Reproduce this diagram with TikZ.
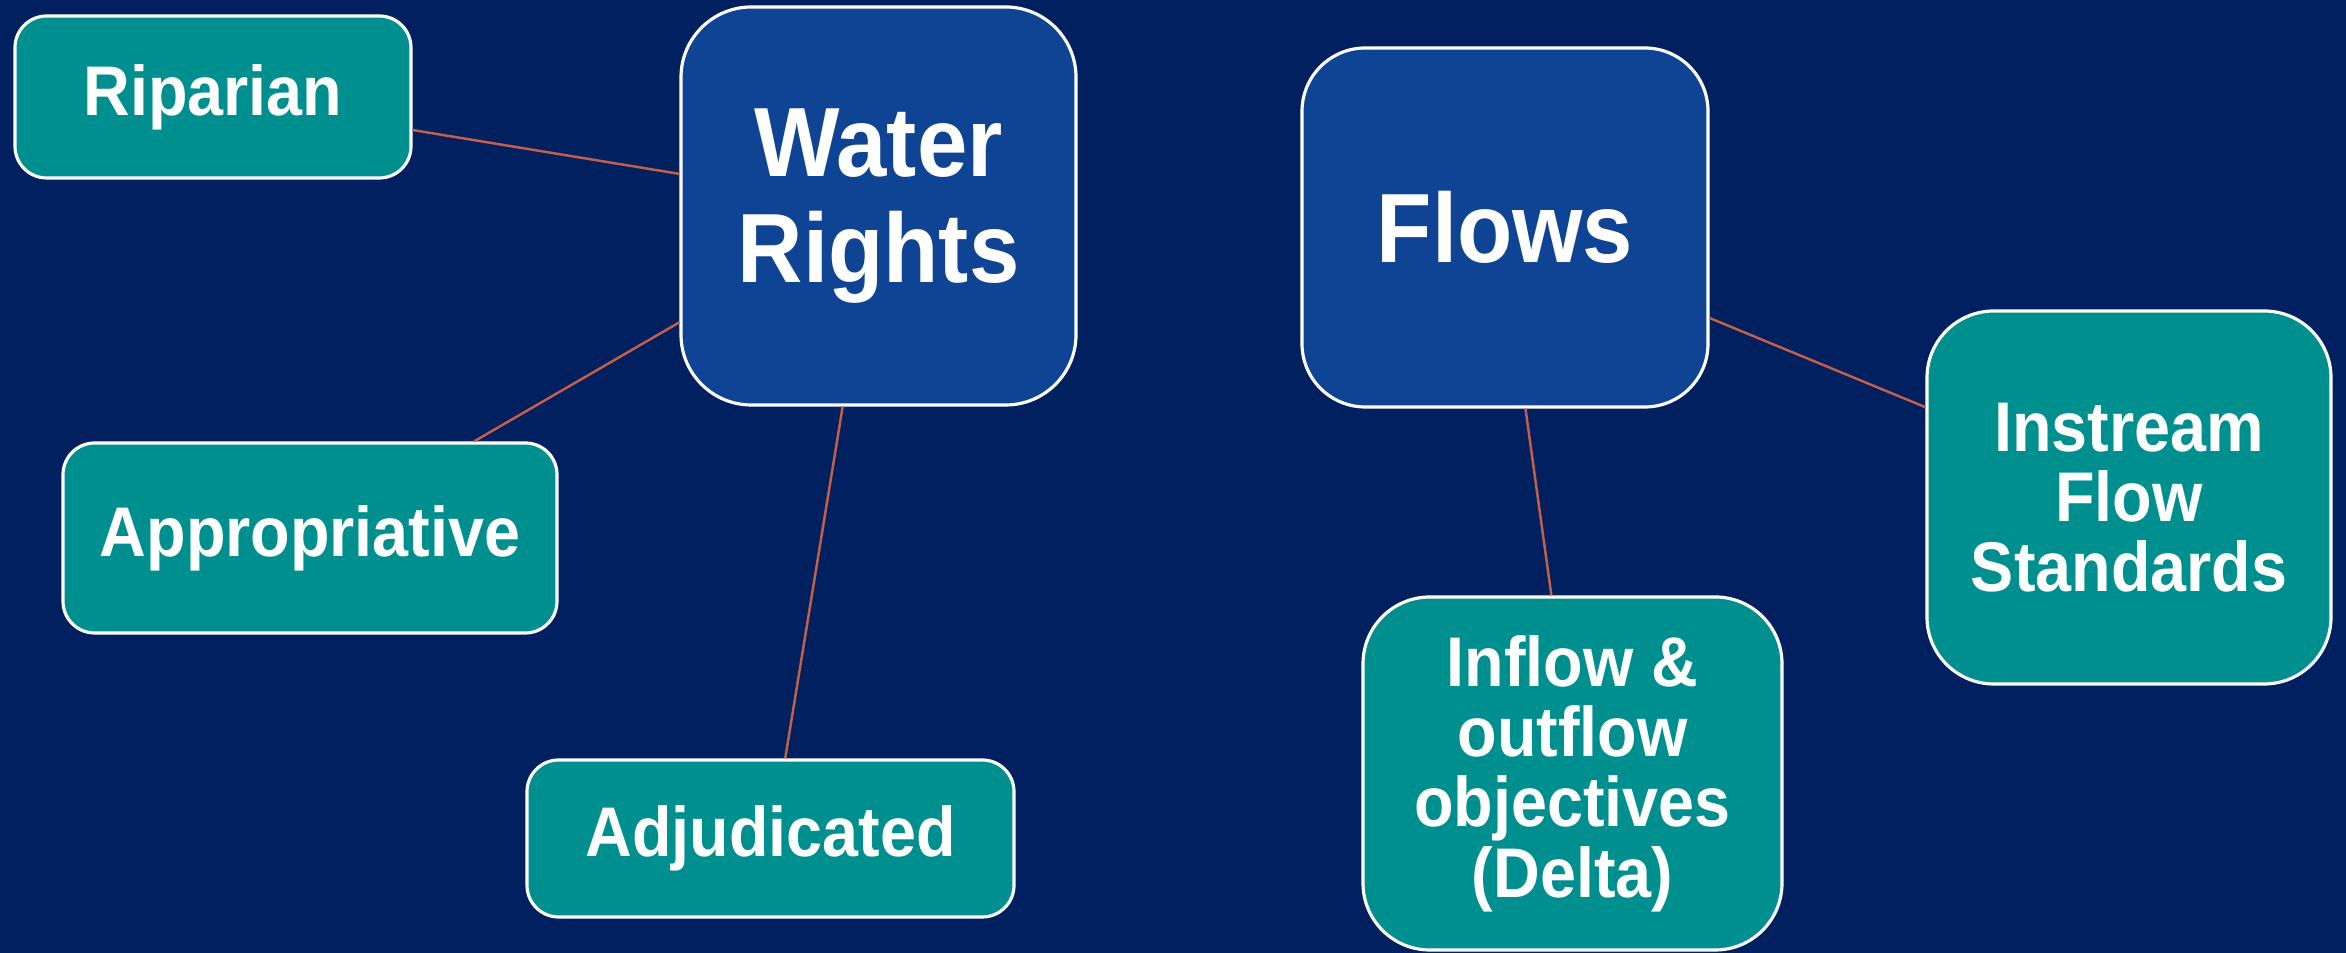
\documentclass[tikz,border=0pt]{standalone}
\usepackage{fontspec}
\setmainfont{Liberation Sans}[FakeStretch=0.92]
\usepackage{tikz}
\usetikzlibrary{calc}
\definecolor{navy}{RGB}{0,32,96}
\definecolor{boxblue}{RGB}{14,68,147}
\definecolor{teal}{RGB}{0,143,143}
\definecolor{linkred}{RGB}{196,96,72}

\begin{document}
\begin{tikzpicture}
\tikzstyle{topic} = [draw=white, line width=0.9pt, fill=boxblue, rectangle, rounded corners=20pt, align=center, text=white, font={\fontsize{28}{30}\selectfont\bfseries}]
\tikzstyle{kind} = [draw=white, line width=0.9pt, fill=teal, rectangle, rounded corners=9pt, align=center, text=white, font={\fontsize{20}{20}\selectfont\bfseries}]
\tikzstyle{link} = [draw=linkred, line width=0.7pt]

%background
\fill [navy] (0,0) rectangle (23.46,9.53);
\useasboundingbox (0,0) rectangle (23.46,9.53);

%%water rights
\node (water)[topic, minimum width=3.95cm, minimum height=3.98cm] at (8.785,7.47) {Water\\Rights};
\node (riparian)[kind, minimum width=3.96cm, minimum height=1.62cm] at (2.13,8.56) {Riparian};
\node (approp)[kind, minimum width=4.94cm, minimum height=1.90cm] at (3.10,4.15) {Appropriative};
\node (adjud)[kind, minimum width=4.87cm, minimum height=1.57cm] at (7.705,1.145) {Adjudicated};

%%flows
\node (flows)[topic, rounded corners=18pt, minimum width=4.06cm, minimum height=3.59cm] at (15.05,7.255) {Flows};
\node (instream)[kind, rounded corners=19pt, minimum width=4.04cm, minimum height=3.73cm] at (21.29,4.555) {Instream\\Flow\\Standards};
\node (inflow)[kind, rounded corners=19pt, minimum width=4.19cm, minimum height=3.53cm] at (15.725,1.795) {Inflow \&\\outflow\\objectives\\(Delta)};

%links
\draw [link] ($(riparian.north east)!0.70!(riparian.south east)$) -- ($(water.north west)!0.42!(water.south west)$);
\draw [link] ($(approp.north west)!0.83!(approp.north east)$) -- ($(water.north west)!0.79!(water.south west)$);
\draw [link] ($(adjud.north west)!0.53!(adjud.north east)$) -- ($(water.south west)!0.41!(water.south east)$);
\draw [link] ($(flows.north east)!0.75!(flows.south east)$) -- ($(instream.north west)!0.26!(instream.south west)$);
\draw [link] ($(flows.south west)!0.55!(flows.south east)$) -- ($(inflow.north west)!0.45!(inflow.north east)$);

\end{tikzpicture}
\end{document}
